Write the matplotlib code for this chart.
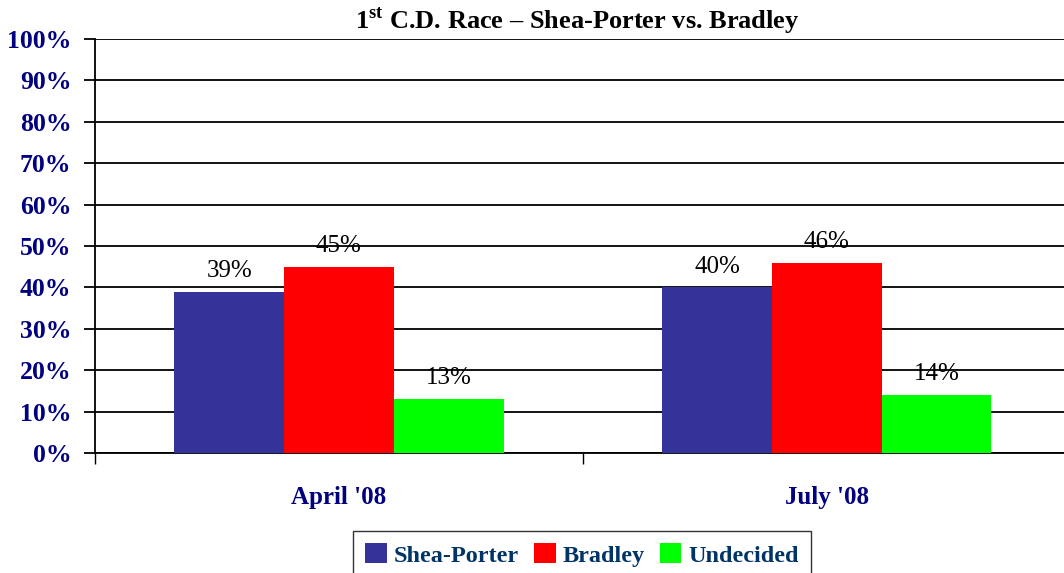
import numpy as np
import matplotlib.pyplot as plt

plt.rcParams['font.family'] = ['Liberation Serif', 'DejaVu Serif']
plt.rcParams['mathtext.fontset'] = 'custom'
plt.rcParams['mathtext.rm'] = 'Liberation Serif:bold'

periods = ["April '08", "July '08"]
shea_porter = [39, 40]
bradley = [45, 46]
undecided = [13, 14]

series = [('Shea-Porter', shea_porter, '#333399'),
          ('Bradley', bradley, '#FF0000'),
          ('Undecided', undecided, '#00FF00')]

fig = plt.figure(figsize=(10.64, 5.73), dpi=100)
ax = fig.add_axes([0.0893, 0.2094, 0.917, 0.7225])

ind = np.arange(len(periods))
width = 0.225

for i, (name, vals, col) in enumerate(series):
    rects = ax.bar(ind + (i - 1) * width, vals, width, color=col, label=name, zorder=3)
    for r in rects:
        h = r.get_height()
        ax.annotate('{}%'.format(h), (r.get_x() + r.get_width() / 2, h),
                    xytext=(0, 7), textcoords='offset points',
                    ha='center', va='bottom', fontsize=18)

ax.set_xlim(-0.5, 1.5)
ax.set_ylim(0, 100)
ax.set_yticks(np.arange(0, 101, 10))
ax.set_yticklabels(['{}%'.format(v) for v in range(0, 101, 10)],
                   color='#000080', fontweight='bold', fontsize=18.5)
ax.yaxis.grid(True, color='black', linewidth=1.3, zorder=0)
ax.tick_params(axis='y', length=8, width=1.3, pad=9)

ax.set_xticks(ind)
ax.set_xticklabels(periods, color='#000080', fontweight='bold', fontsize=18)
ax.tick_params(axis='x', length=0, pad=24)
ax.set_xticks([-0.5, 0.5, 1.5], minor=True)
ax.tick_params(axis='x', which='minor', length=8, width=1)

for s in ['top', 'right']:
    ax.spines[s].set_visible(False)
ax.spines['left'].set_linewidth(1.3)
ax.spines['bottom'].set_linewidth(1.3)

fig.text(0.543, 0.965, r'1$^{\mathrm{st}}$ C.D. Race – Shea-Porter vs. Bradley',
         ha='center', va='center', fontsize=19, fontweight='bold')

leg = fig.legend(loc='lower center', bbox_to_anchor=(0.547, -0.01), ncol=3,
                 frameon=True, fancybox=False, fontsize=17.5,
                 handlelength=0.9, handleheight=0.9, handletextpad=0.3,
                 columnspacing=0.6, borderpad=0.5, borderaxespad=0)
leg.get_frame().set_edgecolor('black')
leg.get_frame().set_linewidth(1)
for t in leg.get_texts():
    t.set_color('#003366')
    t.set_fontweight('bold')

fig.savefig('out.png', dpi=100)
